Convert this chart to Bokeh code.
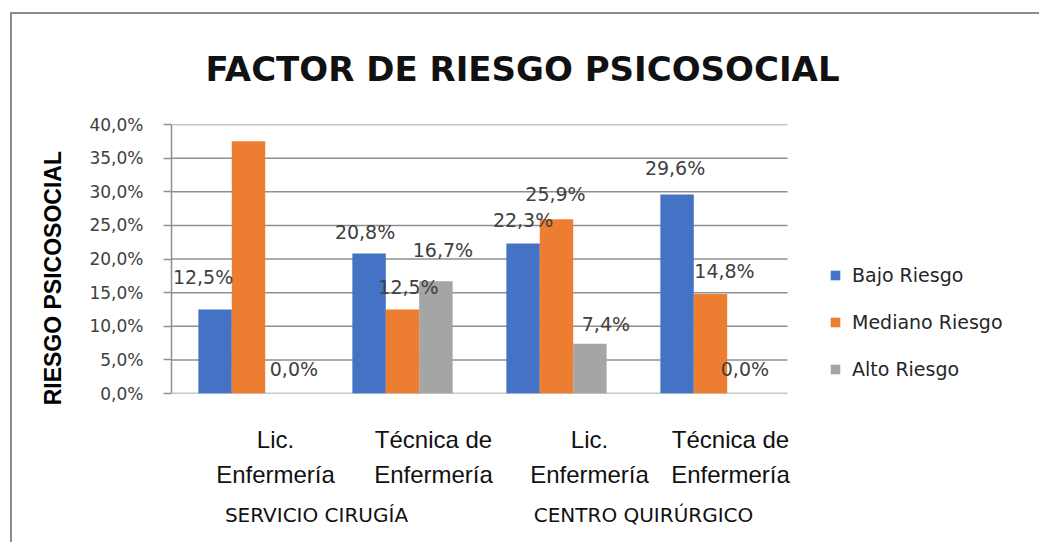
from bokeh.plotting import figure
from bokeh.models import (ColumnDataSource, LabelSet, Legend, LegendItem,
                          FixedTicker, CustomJSTickFormatter, LinearAxis, Range1d)
from bokeh.transform import dodge
from bokeh.core.properties import value
from bokeh.embed import file_html
from bokeh.resources import INLINE

# ---------------- data ----------------
title_text = "FACTOR DE RIESGO PSICOSOCIAL"
y_title = "RIESGO PSICOSOCIAL"
groups = ["SERVICIO CIRUGÍA", "CENTRO QUIRÚRGICO"]
categories = ["Lic.\nEnfermería", "Técnica de\nEnfermería"]
series_names = ["Bajo Riesgo", "Mediano Riesgo", "Alto Riesgo"]
bajo = [12.5, 20.8, 22.3, 29.6]
mediano = [37.5, 12.5, 25.9, 14.8]
alto = [0.0, 16.7, 7.4, 0.0]
y_ticks = [0, 5, 10, 15, 20, 25, 30, 35, 40]

# ---------------- styling / layout ----------------
OX, OY = 12, 14            # page offset of the canvas (inside the chart border)
W, H = 1041 - OX, 544 - OY
FL, FT, FR, FB = 171, 123, 787, 393   # plot-area edges in page pixels
colors = ["#4472c4", "#ed7d31", "#a5a5a5"]
bar_w = 0.217
dodges = [-bar_w, 0.0, bar_w]
label_dx = [[-12, -4, 0, -2], [-2, 6, -1, 14], [12, 7, 16, 1]]
label_dy = [[32, 22, 24, 26], [28, 22, 25, 23], [25, 31, 20, 25]]
cat_dx = [27, 31, 33, 20]
grp_dx = [-9, 10]
cat_px = (FR - FL) / 4.0

cat_labels = [c for g in groups for c in categories]
n_cat = len(cat_labels)
cat_pos = [i + 0.5 for i in range(n_cat)]          # slot centres on the 0..n axis
grp_pos = [len(categories) * (j + 0.5) for j in range(len(groups))]
x_end = (1041 - FL) / cat_px                        # frame runs to the canvas edge (legend area)

p = figure(x_range=Range1d(0, x_end), y_range=Range1d(0, 40), width=W, height=H,
           x_axis_location=None, output_backend="svg", toolbar_location=None,
           min_border_left=FL - OX, min_border_top=FT - OY,
           min_border_right=0, min_border_bottom=H - (FB - OY),
           styles={"margin-left": "10px", "margin-top": "12px",
                   "border-left": "2px solid #8c8c8c", "border-top": "2px solid #8c8c8c"})
p.outline_line_color = None
p.background_fill_color = "white"
p.border_fill_color = "white"
p.xgrid.grid_line_color = None
p.ygrid.grid_line_color = None

grid_col = "#8f8f8f"
# horizontal gridlines across the category slots only
p.segment(x0=[0] * len(y_ticks), x1=[n_cat] * len(y_ticks), y0=y_ticks, y1=y_ticks,
          line_color=grid_col, line_width=1.5)

p.yaxis.ticker = FixedTicker(ticks=y_ticks)
p.yaxis.formatter = CustomJSTickFormatter(code="return tick.toFixed(1).replace('.', ',') + '%';")
p.yaxis.axis_line_color = grid_col
p.yaxis.axis_line_width = 1.5
p.yaxis.major_tick_line_color = grid_col
p.yaxis.major_tick_line_width = 1.5
p.yaxis.major_tick_out = 8
p.yaxis.major_tick_in = 0
p.yaxis.minor_tick_line_color = None
p.yaxis.major_label_standoff = 20
p.yaxis.major_label_text_font = "DejaVu Sans"
p.yaxis.major_label_text_font_size = "17px"
p.yaxis.major_label_text_color = "#404040"
p.yaxis.axis_label = y_title + "\u00a0" * 6
p.yaxis.axis_label_text_font = "Liberation Sans"
p.yaxis.axis_label_text_font_style = "bold"
p.yaxis.axis_label_text_font_size = "23px"
p.yaxis.axis_label_text_color = "#000000"
p.yaxis.axis_label_standoff = 20

# title
p.title.text = title_text
p.title.align = "left"
p.title.offset = 34
p.title.vertical_align = "top"
p.title.text_font = "DejaVu Sans"
p.title.text_font_style = "bold"
p.title.text_font_size = "34px"
p.title.text_color = "#111111"
p.title.standoff = 68

# category / group label axes along the bottom
cat_axis = LinearAxis(ticker=FixedTicker(ticks=[cat_pos[i] + cat_dx[i] / cat_px for i in range(n_cat)]),
                      formatter=CustomJSTickFormatter(args=dict(labs=cat_labels),
                                                      code="return labs[index];"))
grp_axis = LinearAxis(ticker=FixedTicker(ticks=[grp_pos[j] + grp_dx[j] / cat_px for j in range(len(groups))]),
                      formatter=CustomJSTickFormatter(args=dict(labs=groups),
                                                      code="return labs[index];"))
for ax in (cat_axis, grp_axis):
    ax.axis_line_color = None
    ax.major_tick_line_color = None
    ax.minor_tick_line_color = None
    ax.major_tick_out = 0
    ax.major_tick_in = 0
cat_axis.major_label_standoff = 32
cat_axis.major_label_text_font = "Liberation Sans"
cat_axis.major_label_text_font_size = "24px"
cat_axis.major_label_text_line_height = 1.3
cat_axis.major_label_text_color = "#111111"
grp_axis.major_label_standoff = 12
grp_axis.major_label_text_font = "DejaVu Sans"
grp_axis.major_label_text_font_size = "20px"
grp_axis.major_label_text_color = "#111111"
p.add_layout(cat_axis, "below")
p.add_layout(grp_axis, "below")

series_vals = [bajo, mediano, alto]
renderers = []
for i, (name, vals) in enumerate(zip(series_names, series_vals)):
    src = ColumnDataSource(dict(
        x=cat_pos, v=vals,
        lab=[("%.1f%%" % v).replace(".", ",") for v in vals],
        dx=label_dx[i], dy=label_dy[i]))
    r = p.vbar(x=dodge("x", dodges[i]), top="v", width=bar_w,
               source=src, fill_color=colors[i], line_color=None)
    renderers.append(r)
    p.add_layout(LabelSet(x=dodge("x", dodges[i]), y="v", text="lab",
                          x_offset="dx", y_offset="dy", source=src,
                          text_align="center", text_baseline="middle",
                          text_font=value("DejaVu Sans"), text_font_size=value("19px"),
                          text_color="#404040"))

legend = Legend(items=[LegendItem(label=n, renderers=[r]) for n, r in zip(series_names, renderers)],
                location=(829 - FL, 13), orientation="vertical",
                glyph_width=12, glyph_height=12, label_standoff=11,
                label_text_font="DejaVu Sans", label_text_font_size="19px",
                label_text_color="#262626", label_height=22, spacing=25,
                padding=0, margin=0, border_line_color=None, background_fill_alpha=0)
p.add_layout(legend, "center")

open("out.html", "w").write(file_html(p, INLINE))
